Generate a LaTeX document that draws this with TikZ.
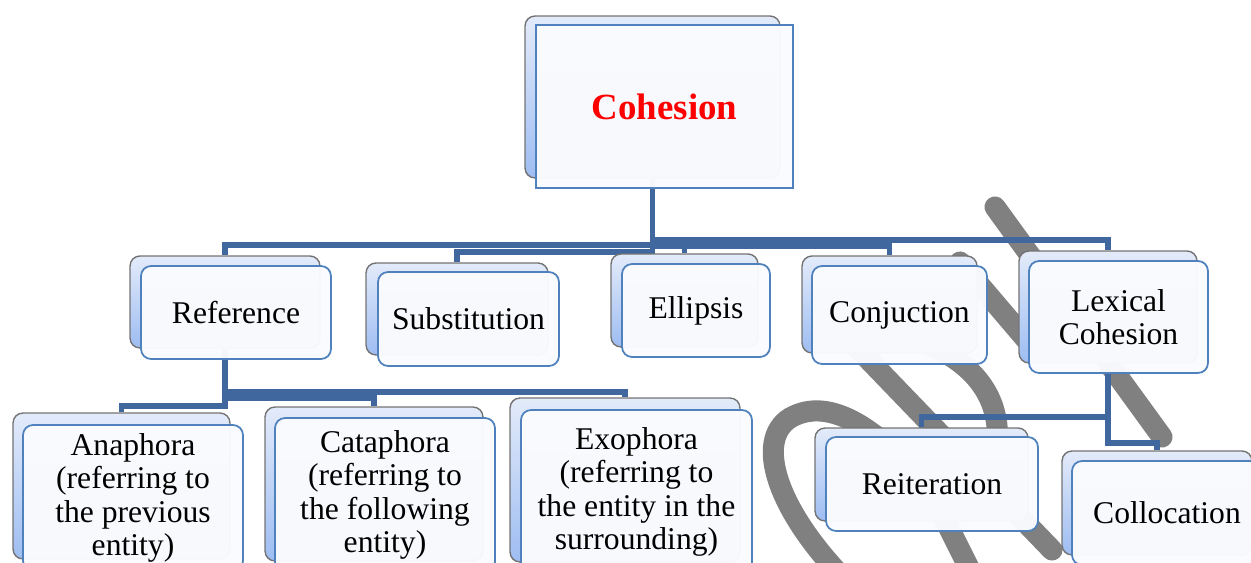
\documentclass[tikz,border=0pt]{standalone}
\usepackage{fontspec}
\setmainfont{Liberation Serif}
\usetikzlibrary{backgrounds}

\definecolor{linkblue}{RGB}{64,104,158}
\definecolor{edgeblue}{RGB}{79,129,189}
\definecolor{paleblue}{RGB}{227,235,250}
\definecolor{midblue}{RGB}{158,189,242}
\definecolor{cardwhite}{RGB}{250,251,254}
\definecolor{markgray}{RGB}{128,128,128}

\tikzset{
  backcard/.style={draw=gray!90!black, line width=0.8pt, rounded corners=0.2cm,
    top color=paleblue, bottom color=midblue, inner sep=0pt},
  card/.style={draw=edgeblue, line width=1pt, rounded corners=0.2cm,
    fill=cardwhite, fill opacity=0.97, text opacity=1, inner sep=0pt,
    align=center, font=\fontsize{18}{19}\selectfont},
  wh/.style 2 args={minimum width=#1cm, minimum height=#2cm},
  link/.style={draw=linkblue, line width=3.2pt},
  swoosh/.style={draw=markgray, line width=12pt, line cap=round},
}

\begin{document}
\begin{tikzpicture}[x=0.02cm, y=-0.02cm]
    \useasboundingbox (0,0) rectangle (1251,563);
    % top
    \node[backcard, wh={5.1}{3.24}] (coh) at (652.5,97) {};
    \node[card, sharp corners, wh={5.14}{3.26}, text=red,
      font=\fontsize{21}{24}\selectfont\bfseries] (coh-f) at ([shift={(12,9.5)}]coh) {Cohesion};
    %
    \node[backcard, wh={3.8}{1.84}] (ref) at (225,302) {};
    \node[card, wh={3.8}{1.86}] (ref-f) at ([shift={(11,10.5)}]ref) {Reference};
    %
    \node[backcard, wh={3.64}{1.84}] (sub) at (457,309) {};
    \node[card, wh={3.62}{1.88}] (sub-f) at ([shift={(11.5,10)}]sub) {Substitution};
    %
    \node[backcard, wh={2.94}{1.86}] (ell) at (684.5,300.5) {};
    \node[card, wh={2.96}{1.86}] (ell-f) at ([shift={(11.5,10)}]ell) {Ellipsis};
    %
    \node[backcard, wh={3.5}{1.94}] (con) at (889.5,304.5) {};
    \node[card, wh={3.5}{1.96}] (con-f) at ([shift={(10,10.5)}]con) {Conjuction};
    %
    \node[backcard, wh={3.56}{2.24}] (lex) at (1108,307) {};
    \node[card, wh={3.58}{2.24}] (lex-f) at ([shift={(10.5,10)}]lex) {Lexical\\Cohesion};
    % bottom
    \node[backcard, wh={4.34}{2.92}] (ana) at (121.5,486) {};
    \node[card, wh={4.4}{2.92}] (ana-f) at ([shift={(11.5,12)}]ana)
      {Anaphora\\(referring to\\the previous\\entity)};
    %
    \node[backcard, wh={4.36}{3.08}] (cat) at (374,484) {};
    \node[card, wh={4.4}{3.08}] (cat-f) at ([shift={(11,11)}]cat)
      {Cataphora\\(referring to\\the following\\entity)};
    %
    \node[backcard, wh={4.6}{3.28}] (exo) at (625,480) {};
    \node[card, wh={4.62}{3.28}] (exo-f) at ([shift={(11.5,12)}]exo)
      {Exophora\\(referring to\\the entity in the\\surrounding)};
    %
    \node[backcard, wh={4.26}{1.86}] (rei) at (921.5,474.5) {};
    \node[card, wh={4.24}{1.88}] (rei-f) at ([shift={(10.5,9.5)}]rei) {Reiteration};
    %
    \node[backcard, wh={3.8}{2.08}] (col) at (1157,503) {};
    \node[card, wh={3.8}{2.08}] (col-f) at ([shift={(10,10)}]col) {Collocation};

    \begin{scope}[on background layer]
      % grey mark behind the cards
      \draw[swoosh] (995,207) -- (1162,437);
      \draw[swoosh] (960,262) -- (1035,350);
      \draw[swoosh] (840,330) -- (1052,550);
      \draw[swoosh] (930,345) .. controls (985,370) and (1005,410) .. (995,460);
      \draw[swoosh] (850,585) .. controls (775,510) and (755,440) .. (790,418)
        .. controls (830,395) and (880,430) .. (930,490) -- (975,580);
      % links
      \foreach \kid/\lev in {ref/245,sub/252,ell/246,con/246,lex/240}
        \draw[link] (coh.south) -- (coh.south |- 0,\lev) -| (\kid.north);
      \foreach \kid/\lev in {ana/406,cat/398,exo/392}
        \draw[link] (ref.south) -- (ref.south |- 0,\lev) -| (\kid.north);
      \foreach \kid/\lev in {rei/417,col/443}
        \draw[link] (lex.south) -- (lex.south |- 0,\lev) -| (\kid.north);
    \end{scope}
\end{tikzpicture}
\end{document}
